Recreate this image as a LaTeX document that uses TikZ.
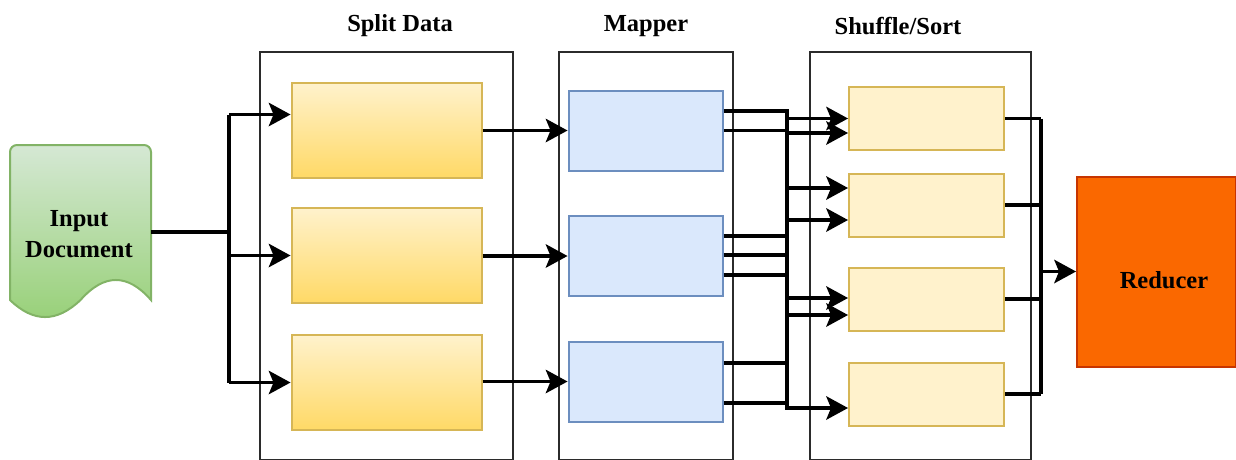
\documentclass[tikz,border=0pt]{standalone}
\usepackage{fontspec}
\setmainfont{Liberation Serif}
\usetikzlibrary{arrows.meta}

\definecolor{frameline}{HTML}{2B2B2B}
\definecolor{yelfill}{HTML}{FFF2CC}
\definecolor{yeldark}{HTML}{FFD966}
\definecolor{yelline}{HTML}{D6B656}
\definecolor{bluefill}{HTML}{DAE8FC}
\definecolor{blueline}{HTML}{6C8EBF}
\definecolor{greentop}{HTML}{D5E8D4}
\definecolor{greenbot}{HTML}{97D077}
\definecolor{greenline}{HTML}{82B366}
\definecolor{redfill}{HTML}{FA6800}
\definecolor{redline}{HTML}{C73500}

\tikzset{
  lbl/.style={font=\fontsize{24.5}{31}\selectfont\bfseries, inner sep=0pt},
  stage/.style={draw=frameline, line width=2pt},
  splitbox/.style={draw=yelline, line width=2pt, top color=yelfill, bottom color=yeldark,
    minimum width=190pt, minimum height=95pt, inner sep=0pt},
  mapbox/.style={draw=blueline, line width=2pt, fill=bluefill,
    minimum width=154pt, minimum height=80pt, inner sep=0pt},
  sortbox/.style={draw=yelline, line width=2pt, fill=yelfill,
    minimum width=155pt, minimum height=63pt, inner sep=0pt},
  wire/.style={line width=3.5pt, draw=black},
  tip/.tip={Stealth[length=22pt, width=24pt, inset=5pt, line width=0pt]},
  arr/.style={wire, -tip},
  hv/.style={to path={-- (\tikztostart -| #1) -- (\tikztotarget -| #1) -- (\tikztotarget)}},
}

\begin{document}
\begin{tikzpicture}[x=1pt, y=-1pt]
  \useasboundingbox (0,0) rectangle (1236,459);

  % stage frames and their titles
  \draw[stage] (260,52) rectangle (513,459.5);
  \draw[stage] (559,52) rectangle (733,459.5);
  \draw[stage] (810,52) rectangle (1031,459.5);
  \node[lbl] (tsplit) at (400,26) {Split Data};
  \node[lbl] (tmap)   at (646,26) {Mapper};
  \node[lbl] (tsort)  at (898,26) {Shuffle/Sort};

  % input document
  \draw[draw=greenline, line width=2pt, top color=greentop, bottom color=greenbot]
    [rounded corners=7pt] (10,300) -- (10,145) -- (151,145) [sharp corners] -- (151,300)
    .. controls (127.7,273.3) and (104.2,273.3) .. (80.5,300)
    .. controls (56.8,322.7) and (33.3,322.7) .. (10,300) -- cycle;
  \node[lbl, align=center] (doc) at (79,234) {Input\\Document};
  \coordinate (docout) at (151,232);

  % split data blocks
  \node[splitbox] (s1) at (386.5,130.5) {};
  \node[splitbox] (s2) at (386.5,255.5) {};
  \node[splitbox] (s3) at (386.5,382.5) {};

  % mapper blocks
  \node[mapbox] (m1) at (645.5,130.5) {};
  \node[mapbox] (m2) at (645.5,256) {};
  \node[mapbox] (m3) at (645.5,381.5) {};

  % shuffle / sort blocks
  \node[sortbox] (q1) at (926.5,118.5) {};
  \node[sortbox] (q2) at (926.5,205) {};
  \node[sortbox] (q3) at (926.5,299) {};
  \node[sortbox] (q4) at (926.5,394) {};

  % reducer
  \node[draw=redline, line width=2pt, fill=redfill, minimum width=159pt, minimum height=190pt,
        inner sep=0pt] (red) at (1156.5,271.5) {};
  \node[lbl] (redtxt) at (1164,280) {Reducer};

  % input -> split blocks
  \coordinate (bus1) at (229,0);
  \coordinate (s1in) at ([yshift=16pt]s1.west);
  \draw[wire] (docout) -- (docout -| bus1);
  \draw[wire] (bus1 |- s1in) -- (bus1 |- s3.west);
  \draw[arr] (bus1 |- s1in) -- (s1in);
  \draw[arr] (bus1 |- s2.west) -- (s2.west);
  \draw[arr] (bus1 |- s3.west) -- (s3.west);

  % split blocks -> mappers
  \draw[arr] (s1.east |- m1.west) -- (m1.west);
  \draw[arr] (s2.east |- m2.west) -- (m2.west);
  \draw[arr] (s3.east |- m3.west) -- (m3.west);

  % mapper outputs
  \coordinate (m1a) at ([yshift=19.5pt]m1.east);
  \coordinate (m1b) at (m1.east);
  \coordinate (m2a) at ([yshift=20pt]m2.east);
  \coordinate (m2b) at ([yshift=1pt]m2.east);
  \coordinate (m2c) at ([yshift=-19pt]m2.east);
  \coordinate (m3a) at ([yshift=18.5pt]m3.east);
  \coordinate (m3b) at ([yshift=-21.5pt]m3.east);
  % shuffle inputs
  \coordinate (q1a) at (q1.west);
  \coordinate (q1b) at ([yshift=-14.5pt]q1.west);
  \coordinate (q2a) at ([yshift=17pt]q2.west);
  \coordinate (q2b) at ([yshift=-15pt]q2.west);
  \coordinate (q3a) at ([yshift=1pt]q3.west);
  \coordinate (q3b) at ([yshift=-16pt]q3.west);
  \coordinate (q4a) at ([yshift=-14pt]q4.west);

  % mappers -> shuffle / sort
  \coordinate (bus2) at (787,0);
  \draw[arr] (m1a) to[hv=bus2] (q2a);
  \draw[arr] (m1b) to[hv=bus2] (q1a);
  \draw[arr] (m2a) to[hv=bus2] (q1b);
  \draw[arr] (m2b) to[hv=bus2] (q3b);
  \draw[arr] (m2c) to[hv=bus2] (q2b);
  \draw[arr] (m3a) to[hv=bus2] (q4a);
  \draw[arr] (m3b) to[hv=bus2] (q3a);

  % shuffle / sort -> reducer
  \coordinate (bus3) at (1041,0);
  \draw[wire] (q1.east) -- (q1.east -| bus3);
  \draw[wire] (q2.east) -- (q2.east -| bus3);
  \draw[wire] (q3.east) -- (q3.east -| bus3);
  \draw[wire] (q4.east) -- (q4.east -| bus3);
  \draw[wire] (bus3 |- q1.east) -- (bus3 |- q4.east);
  \draw[arr] (bus3 |- red.west) -- (red.west);
\end{tikzpicture}
\end{document}
